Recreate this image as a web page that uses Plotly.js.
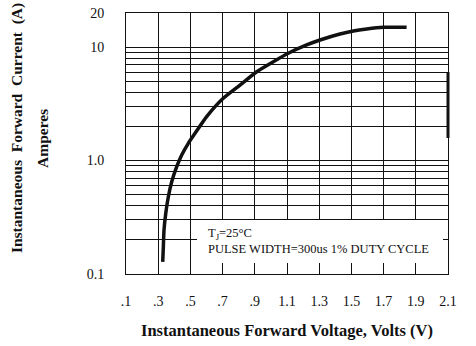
<!DOCTYPE html>
<html>
<head>
<meta charset="utf-8">
<script src="https://cdn.plot.ly/plotly-3.0.1.min.js"></script>
<style>html,body{margin:0;padding:0;background:#fff;}#chart{width:476px;height:346px;}</style>
</head>
<body>
<div id="chart"></div>
<script>
// Curve (volts, amperes)
const voltage = [0.328, 0.332, 0.336, 0.347, 0.363, 0.384, 0.415, 0.446, 0.487, 0.529, 0.601, 0.704, 0.808, 0.912, 1.015, 1.108, 1.222, 1.305, 1.429, 1.512, 1.595, 1.698, 1.843];
const current = [0.128, 0.174, 0.244, 0.343, 0.480, 0.651, 0.883, 1.12, 1.42, 1.74, 2.44, 3.54, 4.63, 6.07, 7.44, 8.83, 10.45, 11.56, 13.06, 13.87, 14.45, 14.96, 14.96];

const xTickVals = [0.1, 0.3, 0.5, 0.7, 0.9, 1.1, 1.3, 1.5, 1.7, 1.9, 2.1];
const xTickText = [".1", ".3", ".5", ".7", ".9", "1.1", "1.3", "1.5", "1.7", "1.9", "2.1"];
const yTickVals = [0.1, 1, 10, 20];
const yTickText = ["0.1", "1.0", "10", "20"];
const yGridVals = [0.2, 0.3, 0.4, 0.5, 0.6, 0.7, 0.8, 0.9, 2, 3, 4, 5, 6, 7, 8, 9];

const xTitle = "Instantaneous Forward Voltage, Volts (V)";
const yTitle1 = "Instantaneous  Forward  Current  (A)";
const yTitle2 = "Amperes";
const noteLines = ["T<sub>J</sub>=25°C", "PULSE WIDTH=300us 1% DUTY CYCLE"];

const serif = "'Liberation Serif', 'Times New Roman', serif";

const trace = {
  x: voltage, y: current, type: 'scatter', mode: 'lines',
  line: {color: '#111', width: 3.5, shape: 'spline', smoothing: 0.6},
  hoverinfo: 'skip'
};

const layout = {
  width: 476, height: 346,
  margin: {l: 126, r: 28, t: 13, b: 72},
  paper_bgcolor: '#fff', plot_bgcolor: '#fff',
  showlegend: false,
  font: {family: serif, color: '#111', size: 14},
  xaxis: {
    range: [0.1, 2.1], tickmode: 'array', tickvals: xTickVals, ticktext: xTickText,
    showgrid: true, gridcolor: '#111', gridwidth: 1, zeroline: false,
    showline: true, linecolor: '#111', linewidth: 1, mirror: true,
    ticks: '', ticklabelstandoff: 14,
    tickfont: {family: serif, size: 14, color: '#111'},
    title: {text: '<b>' + xTitle + '</b>', font: {family: serif, size: 16.5, color: '#111'}, standoff: 16}
  },
  yaxis: {
    type: 'log', range: [-1, Math.log10(20)], tickmode: 'array', tickvals: yTickVals, ticktext: yTickText,
    showgrid: true, gridcolor: '#111', gridwidth: 1, zeroline: false,
    showline: true, linecolor: '#111', linewidth: 1, mirror: true,
    ticks: '', ticklabelstandoff: 18,
    minor: {tickmode: 'array', tickvals: yGridVals, showgrid: true, gridcolor: '#111', gridwidth: 1, ticks: ''},
    tickfont: {family: serif, size: 14, color: '#111'}
  },
  shapes: [
    {type: 'rect', xref: 'paper', yref: 'paper', x0: 0.2205, x1: 0.9845, y0: 0.042, y1: 0.207,
     fillcolor: '#fff', line: {width: 0}, layer: 'above'},
    {type: 'line', xref: 'paper', yref: 'paper', x0: 1, x1: 1, y0: 0.521, y1: 0.774,
     line: {color: '#111', width: 3}, layer: 'above'}
  ],
  annotations: [
    {xref: 'paper', yref: 'paper', x: 0.248, y: 0.153, xanchor: 'left', yanchor: 'middle', showarrow: false,
     text: noteLines[0], font: {family: serif, size: 12.5, color: '#111'}},
    {xref: 'paper', yref: 'paper', x: 0.248, y: 0.0958, xanchor: 'left', yanchor: 'middle', showarrow: false,
     text: noteLines[1], font: {family: serif, size: 12.5, color: '#111'}},
    {xref: 'paper', yref: 'paper', x: -0.3385, y: 0.559, xanchor: 'center', yanchor: 'middle', showarrow: false,
     textangle: -90, text: '<b>' + yTitle1 + '</b>', font: {family: serif, size: 15.5, color: '#111'}},
    {xref: 'paper', yref: 'paper', x: -0.261, y: 0.521, xanchor: 'center', yanchor: 'middle', showarrow: false,
     textangle: -90, text: '<b>' + yTitle2 + '</b>', font: {family: serif, size: 15.5, color: '#111'}}
  ]
};

Plotly.newPlot('chart', [trace], layout, {staticPlot: true, displayModeBar: false});
</script>
</body>
</html>
